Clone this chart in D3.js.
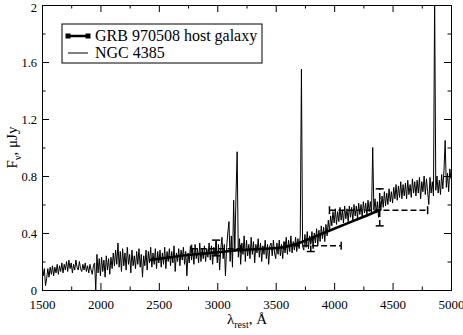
<!DOCTYPE html>
<html>
<head>
<meta charset="utf-8">
<script src="https://cdn.jsdelivr.net/npm/d3@7"></script>
<style>
  body { margin: 0; background: #fff; }
  text { font-family: "Liberation Serif", "DejaVu Serif", serif; fill: #000; }
</style>
</head>
<body>
<div id="root"></div>
<script>
const width = 463
const height = 335
const margin = { top: 5, right: 12, bottom: 45, left: 42 }

// NGC 4385 spectrum, one value every 10 A from 1500 to 5000
const specStart = 1500
const specStep = 10
const ngcFlux = [
  0.18, 0.10, 0.15, 0.03, 0.08, 0.15, 0.09, 0.16, 0.11, 0.17,
  0.10, 0.16, 0.12, 0.18, 0.11, 0.17, 0.13, 0.19, 0.12, 0.18,
  0.14, 0.20, 0.13, 0.21, 0.15, 0.19, 0.12, 0.18, 0.14, 0.21,
  0.16, 0.14, 0.20, 0.15, 0.13, 0.18, 0.14, 0.19, 0.13, 0.17,
  0.12, 0.18, 0.14, 0.11, 0.17, 0.19, 0.00, 0.25, 0.12, 0.22,
  0.10, 0.23, 0.13, 0.21, 0.09, 0.24, 0.14, 0.22, 0.11, 0.23,
  0.15, 0.26, 0.17, 0.28, 0.18, 0.33, 0.16, 0.27, 0.13, 0.29,
  0.17, 0.26, 0.14, 0.30, 0.18, 0.25, 0.12, 0.28, 0.17, 0.24,
  0.15, 0.27, 0.18, 0.29, 0.16, 0.25, 0.09, 0.24, 0.17, 0.28,
  0.14, 0.27, 0.19, 0.30, 0.16, 0.26, 0.18, 0.29, 0.15, 0.27,
  0.19, 0.28, 0.16, 0.26, 0.18, 0.30, 0.15, 0.27, 0.20, 0.29,
  0.17, 0.27, 0.19, 0.31, 0.13, 0.26, 0.20, 0.29, 0.17, 0.28,
  0.21, 0.30, 0.18, 0.27, 0.10, 0.26, 0.19, 0.31, 0.21, 0.29,
  0.18, 0.32, 0.22, 0.29, 0.19, 0.33, 0.20, 0.29, 0.22, 0.31,
  0.20, 0.29, 0.23, 0.33, 0.21, 0.31, 0.18, 0.30, 0.24, 0.34,
  0.19, 0.32, 0.14, 0.29, 0.37, 0.22, 0.32, 0.10, 0.30, 0.40,
  0.48, 0.20, 0.38, 0.16, 0.63, 0.27, 0.66, 0.97, 0.23, 0.36,
  0.18, 0.33, 0.25, 0.38, 0.20, 0.35, 0.24, 0.32, 0.22, 0.37,
  0.25, 0.34, 0.19, 0.32, 0.26, 0.36, 0.23, 0.33, 0.20, 0.31,
  0.25, 0.35, 0.22, 0.32, 0.18, 0.31, 0.33, 0.24, 0.35, 0.26,
  0.22, 0.33, 0.25, 0.35, 0.24, 0.32, 0.22, 0.34, 0.26, 0.37,
  0.25, 0.35, 0.27, 0.38, 0.26, 0.34, 0.28, 0.37, 0.27, 0.36,
  0.29, 0.38, 1.55, 0.31, 0.28, 0.39, 0.30, 0.41, 0.29, 0.38,
  0.32, 0.41, 0.29, 0.40, 0.33, 0.43, 0.31, 0.42, 0.34, 0.45,
  0.36, 0.44, 0.34, 0.46, 0.38, 0.49, 0.41, 0.52, 0.45, 0.55,
  0.47, 0.57, 0.46, 0.55, 0.48, 0.58, 0.49, 0.56, 0.47, 0.59,
  0.50, 0.57, 0.48, 0.59, 0.51, 0.58, 0.49, 0.60, 0.52, 0.59,
  0.50, 0.61, 0.53, 0.60, 0.51, 0.62, 0.54, 0.61, 0.52, 0.63,
  0.55, 0.62, 0.53, 1.00, 0.56, 0.64, 0.54, 0.62, 0.51, 0.65,
  0.56, 0.66, 0.58, 0.69, 0.59, 0.68, 0.60, 0.71, 0.62, 0.69,
  0.61, 0.72, 0.64, 0.74, 0.63, 0.73, 0.65, 0.76, 0.64, 0.74,
  0.66, 0.75, 0.64, 0.77, 0.67, 0.74, 0.65, 0.78, 0.68, 0.76,
  0.66, 0.77, 0.68, 0.79, 0.64, 0.76, 0.69, 0.80, 0.67, 0.78,
  0.69, 0.60, 0.79, 0.68, 0.76, 0.66, 2.05, 0.70, 0.80, 0.68,
  0.77, 0.67, 0.81, 0.71, 0.84, 1.05, 0.72, 0.82, 0.69, 0.85,
  0.78
]

// GRB 970508 host galaxy SED (rest frame)
const grbWave = [2420, 2600, 2800, 3000, 3200, 3400, 3550, 3700, 3850, 4000, 4150, 4300, 4400]
const grbFlux = [0.21, 0.23, 0.25, 0.265, 0.28, 0.29, 0.298, 0.33, 0.38, 0.43, 0.48, 0.53, 0.565]

// photometric points: centre, band edges, flux, flux error range
const photWave = [2990, 3800, 4390]
const photLo = [2780, 3580, 3960]
const photHi = [3200, 4060, 4800]
const photFlux = [0.29, 0.31, 0.56]
const photErrLo = [0.24, 0.27, 0.45]
const photErrHi = [0.35, 0.36, 0.71]

const xTicks = [1500, 2000, 2500, 3000, 3500, 4000, 4500, 5000]
const yTicks = [0, 0.4, 0.8, 1.2, 1.6, 2]

const serif = '"Liberation Serif", "DejaVu Serif", serif'

const svg = d3.select('#root').append('svg')
  .attr('width', width)
  .attr('height', height)

const x = d3.scaleLinear().domain([1500, 5000]).range([margin.left, width - margin.right])
const y = d3.scaleLinear().domain([0, 2]).range([height - margin.bottom, margin.top])

svg.append('clipPath').attr('id', 'clip')
  .append('rect')
  .attr('x', margin.left).attr('y', margin.top)
  .attr('width', x(5000) - x(1500)).attr('height', y(0) - y(2))

const plot = svg.append('g').attr('clip-path', 'url(#clip)')

const spec = ngcFlux.map((v, i) => [specStart + i * specStep, v])
const line = d3.line().x(d => x(d[0])).y(d => y(d[1]))

plot.append('path')
  .datum(spec)
  .attr('d', line)
  .attr('fill', 'none')
  .attr('stroke', '#000')
  .attr('stroke-width', 1)

// dashed error boxes
photWave.forEach((w, i) => {
  const g = plot.append('g')
    .attr('stroke', '#000')
    .attr('stroke-width', 1.5)
    .attr('stroke-dasharray', '6,3')
    .attr('fill', 'none')
  g.append('line')
    .attr('x1', x(photLo[i])).attr('x2', x(photHi[i]))
    .attr('y1', y(photFlux[i])).attr('y2', y(photFlux[i]))
  g.append('line')
    .attr('x1', x(w)).attr('x2', x(w))
    .attr('y1', y(photErrLo[i])).attr('y2', y(photErrHi[i]))
  const caps = plot.append('g').attr('stroke', '#000').attr('stroke-width', 1.5)
  ;[photLo[i], photHi[i]].forEach(e => {
    caps.append('line')
      .attr('x1', x(e)).attr('x2', x(e))
      .attr('y1', y(photFlux[i]) - 4).attr('y2', y(photFlux[i]) + 4)
  })
  ;[photErrLo[i], photErrHi[i]].forEach(e => {
    caps.append('line')
      .attr('x1', x(w) - 4).attr('x2', x(w) + 4)
      .attr('y1', y(e)).attr('y2', y(e))
  })
})

const grb = grbWave.map((w, i) => [w, grbFlux[i]])
plot.append('path')
  .datum(grb)
  .attr('d', d3.line().curve(d3.curveMonotoneX).x(d => x(d[0])).y(d => y(d[1])))
  .attr('fill', 'none')
  .attr('stroke', '#000')
  .attr('stroke-width', 2.5)

// axes, ticks pointing inwards on all four sides
const xMinor = d3.range(1750, 5000, 500)
const yMinor = d3.range(0.2, 2, 0.4)
const axisStyle = g => g.attr('font-family', serif)
  .call(s => s.select('.domain').attr('stroke', '#000'))
  .selectAll('.tick line').attr('stroke', '#000')

const bottom = svg.append('g')
  .attr('transform', `translate(0,${y(0)})`)
  .call(d3.axisBottom(x).tickValues(xTicks).tickSize(-7).tickPadding(10).tickSizeOuter(0).tickFormat(d3.format('d')))
bottom.call(axisStyle)
bottom.selectAll('text').attr('font-size', 13)
svg.append('g')
  .attr('transform', `translate(0,${y(0)})`)
  .call(d3.axisBottom(x).tickValues(xMinor).tickSize(-3.5).tickFormat('').tickSizeOuter(0))
  .call(axisStyle)

svg.append('g')
  .attr('transform', `translate(0,${y(2)})`)
  .call(d3.axisTop(x).tickValues(xTicks).tickSize(-7).tickFormat('').tickSizeOuter(0))
  .call(axisStyle)
svg.append('g')
  .attr('transform', `translate(0,${y(2)})`)
  .call(d3.axisTop(x).tickValues(xMinor).tickSize(-3.5).tickFormat('').tickSizeOuter(0))
  .call(axisStyle)

const left = svg.append('g')
  .attr('transform', `translate(${x(1500)},0)`)
  .call(d3.axisLeft(y).tickValues(yTicks).tickSize(-7).tickPadding(5).tickSizeOuter(0).tickFormat(d3.format('')))
left.call(axisStyle)
left.selectAll('text').attr('font-size', 12.5)
left.selectAll('.tick').filter(d => d === 2).select('text').attr('dy', '0.55em')
svg.append('g')
  .attr('transform', `translate(${x(1500)},0)`)
  .call(d3.axisLeft(y).tickValues(yMinor).tickSize(-3.5).tickFormat('').tickSizeOuter(0))
  .call(axisStyle)

svg.append('g')
  .attr('transform', `translate(${x(5000)},0)`)
  .call(d3.axisRight(y).tickValues(yTicks).tickSize(-7).tickFormat('').tickSizeOuter(0))
  .call(axisStyle)
svg.append('g')
  .attr('transform', `translate(${x(5000)},0)`)
  .call(d3.axisRight(y).tickValues(yMinor).tickSize(-3.5).tickFormat('').tickSizeOuter(0))
  .call(axisStyle)

// axis titles
const xt = svg.append('text')
  .attr('x', 247).attr('y', 324)
  .attr('text-anchor', 'middle')
  .attr('font-size', 15)
xt.append('tspan').text('λ')
xt.append('tspan').attr('font-size', 10).attr('dy', 4).text('rest')
xt.append('tspan').attr('dy', -4).text(', Å')

const yt = svg.append('text')
  .attr('transform', `translate(17,${(y(0) + y(2)) / 2}) rotate(-90)`)
  .attr('text-anchor', 'middle')
  .attr('font-size', 15)
yt.append('tspan').text('F')
yt.append('tspan').attr('font-size', 10).attr('dy', 4).text('ν')
yt.append('tspan').attr('dy', -4).text(', μJy')

// legend
const legend = svg.append('g').attr('transform', 'translate(62,24)')
legend.append('rect')
  .attr('width', 200).attr('height', 39)
  .attr('fill', '#fff').attr('stroke', '#000').attr('stroke-width', 1)
legend.append('line')
  .attr('x1', 6).attr('x2', 26).attr('y1', 12).attr('y2', 12)
  .attr('stroke', '#000').attr('stroke-width', 2.5)
legend.selectAll('rect.m')
  .data([6, 26])
  .join('rect')
  .attr('class', 'm')
  .attr('x', d => d - 2.5).attr('y', 9.5)
  .attr('width', 5).attr('height', 5)
  .attr('fill', '#000')
legend.append('line')
  .attr('x1', 6).attr('x2', 26).attr('y1', 29).attr('y2', 29)
  .attr('stroke', '#000').attr('stroke-width', 1)
legend.append('text').attr('x', 33).attr('y', 17).attr('font-size', 16).text('GRB 970508 host galaxy')
legend.append('text').attr('x', 33).attr('y', 34).attr('font-size', 16).text('NGC 4385')
</script>
</body>
</html>
